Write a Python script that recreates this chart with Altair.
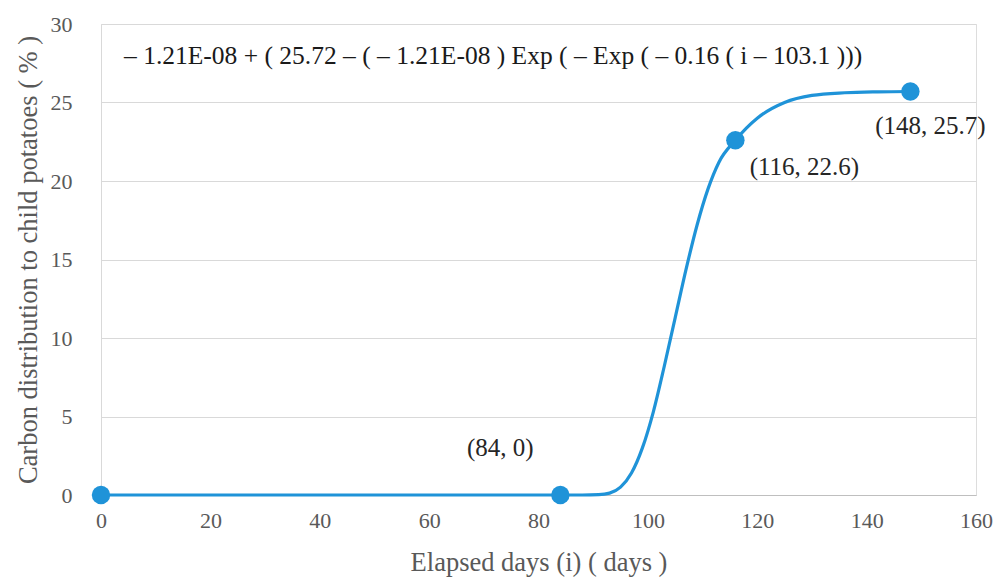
import altair as alt
import pandas as pd

# Observed data points
point_x = [0, 84, 116, 148]
point_y = [0, 0, 22.6, 25.7]
point_labels = ["(0, 0)", "(84, 0)", "(116, 22.6)", "(148, 25.7)"]

# Fitted curve
curve_x = [0, 84, 88, 91, 93, 95, 97, 99, 101, 103, 105, 107, 109,
           111, 113, 116, 120, 125, 130, 136, 142, 148]
curve_y = [0, 0, 0, 0.02, 0.12, 0.5, 1.4, 3.0, 5.3, 8.2, 11.3, 14.4, 17.2,
           19.5, 21.2, 22.6, 24.0, 25.0, 25.45, 25.62, 25.68, 25.7]

x_ticks = [0, 20, 40, 60, 80, 100, 120, 140, 160]
y_ticks = [0, 5, 10, 15, 20, 25, 30]

equation = "– 1.21E-08 + ( 25.72 – ( – 1.21E-08 ) Exp ( – Exp (  – 0.16 ( i – 103.1 )))"
x_title = "Elapsed days (i) ( days )"
y_title = "Carbon distribution to child potatoes ( % )"

FONT = "Liberation Serif"
BLUE = "#1f93d8"

curve_df = pd.DataFrame({"x": curve_x, "y": curve_y})
pts_df = pd.DataFrame({"x": point_x, "y": point_y, "label": point_labels})

xs = alt.Scale(domain=[0, 160], nice=False, zero=True)
ys = alt.Scale(domain=[0, 30], nice=False)

x_axis = alt.Axis(values=x_ticks, title=x_title, grid=False, ticks=False,
                  domainColor="#bfbfbf", labelPadding=15, titlePadding=18,
                  labelFlush=False, labelFontSize=22, titleFontSize=26.5,
                  labelColor="#595959", titleColor="#595959", labelFont=FONT,
                  titleFont=FONT, titleFontWeight="normal")
y_axis = alt.Axis(values=y_ticks, title=y_title, grid=True, gridColor="#d9d9d9",
                  ticks=False, domainColor="#d9d9d9", labelPadding=29,
                  labelFlush=False, titlePadding=8, labelFontSize=22,
                  titleFontSize=26.5, labelColor="#595959", titleColor="#595959",
                  labelFont=FONT, titleFont=FONT, titleFontWeight="normal")

line = alt.Chart(curve_df).mark_line(color=BLUE, strokeWidth=3.2, interpolate="monotone").encode(
    x=alt.X("x:Q", scale=xs, axis=x_axis),
    y=alt.Y("y:Q", scale=ys, axis=y_axis),
)

points = alt.Chart(pts_df).mark_circle(color=BLUE, size=340, opacity=1).encode(
    x=alt.X("x:Q", scale=xs),
    y=alt.Y("y:Q", scale=ys),
)

def label_layer(i, dx, dy):
    df = pts_df.iloc[[i]]
    return alt.Chart(df).mark_text(font=FONT, fontSize=25, color="#262626",
                                   dx=dx, dy=dy).encode(
        x=alt.X("x:Q", scale=xs),
        y=alt.Y("y:Q", scale=ys),
        text="label:N",
    )

lab84 = label_layer(1, -60, -47)
lab116 = label_layer(2, 69, 27)
lab148 = label_layer(3, 20, 34)

eq = alt.Chart(pd.DataFrame({"t": [equation]})).mark_text(
    font=FONT, fontSize=25.5, color="#1a1a1a", align="left", baseline="middle"
).encode(x=alt.value(23), y=alt.value(32), text="t:N")

chart = alt.layer(line, points, lab84, lab116, lab148, eq).properties(
    width=875, height=471,
    autosize=alt.AutoSizeParams(type="none"),
    padding={"left": 93, "top": 16, "right": 22, "bottom": 82},
).configure_view(stroke=None).configure(background="white")

chart.save("out.html", embed_options={"renderer": "svg", "actions": False})
